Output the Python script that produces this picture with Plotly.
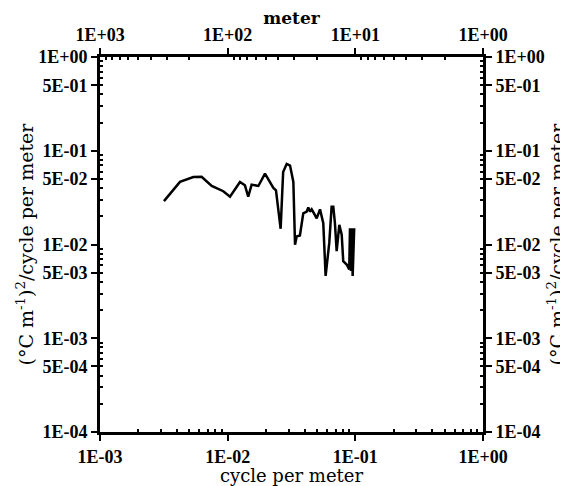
import plotly.graph_objects as go

# Spectrum (frequency in cycle per meter, PSD)
freq_cpm = [0.00317, 0.00423, 0.00538, 0.00625, 0.00750, 0.00924, 0.01043, 0.01248,
            0.01365, 0.01449, 0.0154, 0.0174, 0.0196, 0.0208, 0.0228, 0.0239,
            0.0260, 0.0272, 0.0290, 0.0308, 0.0327, 0.0337, 0.0347, 0.0368,
            0.0391, 0.0416, 0.0428, 0.0441, 0.0455, 0.0483, 0.0498, 0.0529,
            0.0545, 0.0561, 0.0585, 0.0603, 0.0625, 0.0652, 0.0672, 0.0692,
            0.0714, 0.0749, 0.0782, 0.0804, 0.0855, 0.0896, 0.0908, 0.0924,
            0.0936, 0.0953, 0.0980]
psd = [0.0290, 0.0465, 0.0525, 0.0528, 0.0421, 0.0370, 0.0323, 0.0465,
       0.0428, 0.0323, 0.0435, 0.0421, 0.0569, 0.0503, 0.0402, 0.0379,
       0.0147, 0.0592, 0.0725, 0.0696, 0.0465, 0.00995, 0.0122, 0.0125,
       0.0215, 0.0224, 0.0249, 0.0224, 0.0237, 0.0206, 0.0190, 0.0237,
       0.0206, 0.0169, 0.00462, 0.00721, 0.0104, 0.0253, 0.0253, 0.0169,
       0.00848, 0.0162, 0.0127, 0.00665, 0.00612, 0.00542, 0.0149, 0.00521,
       0.0149, 0.00462, 0.0149]

x_tickvals = [1e-3, 1e-2, 1e-1, 1e0]
x_ticktext = ["1E-03", "1E-02", "1E-01", "1E+00"]
top_tickvals = [1e3, 1e2, 1e1, 1e0]
top_ticktext = ["1E+03", "1E+02", "1E+01", "1E+00"]
y_tickvals = [1e0, 5e-1, 1e-1, 5e-2, 1e-2, 5e-3, 1e-3, 5e-4, 1e-4]
y_ticktext = ["1E+00", "5E-01", "1E-01", "5E-02", "1E-02", "5E-03", "1E-03", "5E-04", "1E-04"]

wavelength_m = [1.0 / f for f in freq_cpm]

def minor_vals(lo, hi):
    vals = []
    for e in range(lo, hi):
        for m in range(2, 10):
            vals.append(m * 10 ** e)
    return vals

TICKFONT = dict(family="Liberation Serif", size=18, color="black", weight="bold")
TITLEFONT = dict(family="DejaVu Serif", size=18, color="black")
YTITLEFONT = dict(family="DejaVu Serif", size=19, color="black")
ytitle = "(°C m<sup>-1</sup>)<sup>2</sup>/cycle per meter"

fig = go.Figure()
fig.add_trace(go.Scatter(x=freq_cpm, y=psd, mode="lines",
                         line=dict(color="black", width=2.5), showlegend=False,
                         hoverinfo="x+y"))
# invisible companions so the top and right axes are drawn
fig.add_trace(go.Scatter(x=wavelength_m, y=psd, xaxis="x2", yaxis="y", mode="lines",
                         line=dict(color="rgba(0,0,0,0)"), showlegend=False, hoverinfo="skip"))
fig.add_trace(go.Scatter(x=freq_cpm, y=psd, xaxis="x", yaxis="y2", mode="lines",
                         line=dict(color="rgba(0,0,0,0)"), showlegend=False, hoverinfo="skip"))

axis_common = dict(type="log", showgrid=False, zeroline=False, showline=True,
                   linecolor="black", linewidth=3, ticks="outside", ticklen=6,
                   tickwidth=2, tickcolor="black", tickfont=TICKFONT, automargin=False)

def minor(lo, hi):
    return dict(tickmode="array", tickvals=minor_vals(lo, hi), ticks="inside",
                ticklen=3, tickwidth=1.5, tickcolor="black", showgrid=False)

# the page body adds an 8 px offset; the figure is sized so the plot sits where the reference has it
fig.update_layout(
    width=560, height=478,
    margin=dict(l=92, r=85, t=49, b=54),
    paper_bgcolor="white", plot_bgcolor="white",
    xaxis=dict(**axis_common, range=[-3, 0], tickmode="array",
               tickvals=x_tickvals, ticktext=x_ticktext, minor=minor(-3, 0),
               title=dict(text="cycle per meter", font=TITLEFONT, standoff=0)),
    xaxis2=dict(**axis_common, range=[3, 0], overlaying="x", side="top",
                anchor="y", tickmode="array", tickvals=top_tickvals, ticktext=top_ticktext,
                minor=minor(0, 3),
                title=dict(text="meter", font=dict(family="DejaVu Serif", size=17,
                                                   color="black", weight="bold"), standoff=0)),
    yaxis=dict(**axis_common, range=[-4, 0], tickmode="array",
               tickvals=y_tickvals, ticktext=y_ticktext, minor=minor(-4, 0),
               title=dict(text=ytitle, font=YTITLEFONT, standoff=0)),
    yaxis2=dict(**axis_common, range=[-4, 0], overlaying="y", side="right",
                anchor="x", tickmode="array", tickvals=y_tickvals, ticktext=y_ticktext,
                minor=minor(-4, 0),
                title=dict(text=ytitle, font=YTITLEFONT, standoff=14)),
)

fig.write_html("out.html")
